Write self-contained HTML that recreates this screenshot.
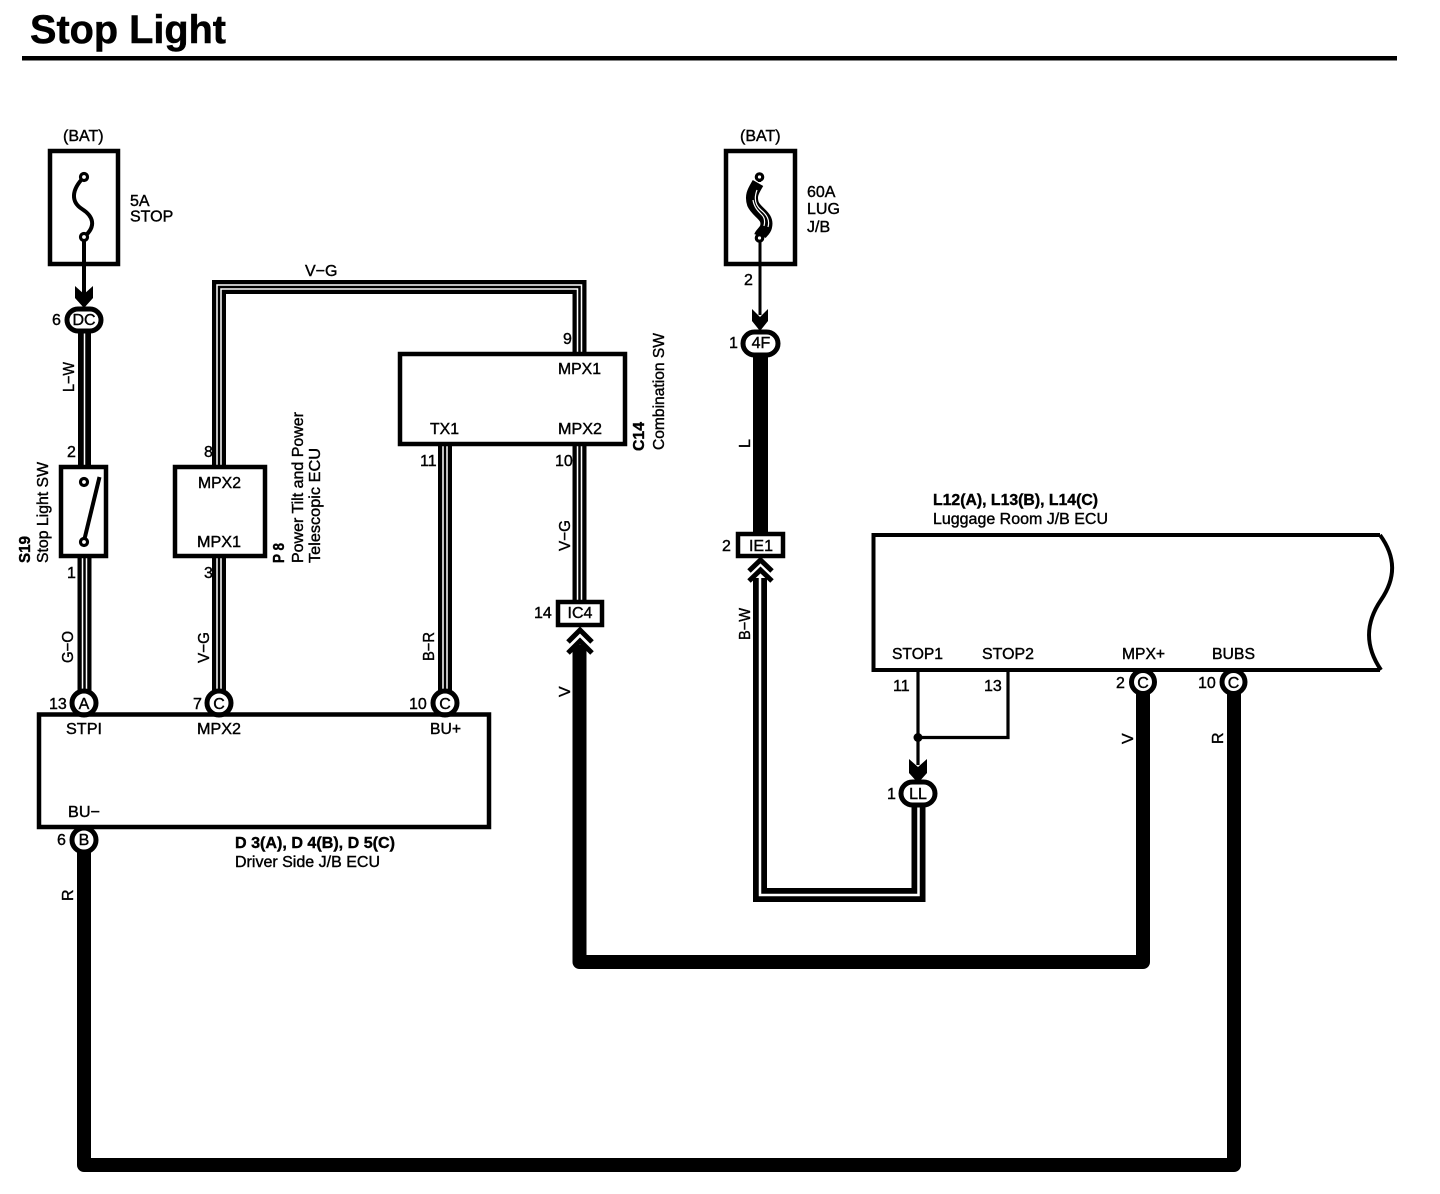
<!DOCTYPE html>
<html>
<head>
<meta charset="utf-8">
<style>
html,body{margin:0;padding:0;background:#fff}
svg{display:block}
text{font-family:"Liberation Sans",Arial,sans-serif;font-size:16px;fill:#000;stroke:#000;stroke-width:.4}
.b{font-weight:bold}
.m{text-anchor:middle}
.w{fill:none;stroke:#000}
.bx{fill:#fff;stroke:#000;stroke-width:4.5}
.c{fill:#fff;stroke:#000;stroke-width:5}
</style>
</head>
<body>
<svg width="1440" height="1194" viewBox="0 0 1440 1194" xmlns="http://www.w3.org/2000/svg">
<rect width="1440" height="1194" fill="#fff"/>
<text x="30" y="43" class="b" style="font-size:40px;stroke-width:.5" textLength="196" lengthAdjust="spacingAndGlyphs">Stop Light</text>
<rect x="22" y="56" width="1375" height="4.5" fill="#000"/>

<g fill="none" stroke-linejoin="miter">
<!-- striped V-G top -->
<path d="M219,467V287H579.5V354" stroke="#000" stroke-width="14"/>
<path d="M219,467V287H579.5V354" stroke="#fff" stroke-width="5.5"/>
<path d="M219,467V287H579.5V354" stroke="#000" stroke-width="2.5"/>
<!-- L-W -->
<path d="M84.5,330V467" stroke="#000" stroke-width="13"/>
<path d="M84.5,330V467" stroke="#fff" stroke-width="1.5"/>
<!-- G-O, V-G, B-R, V-G -->
<path d="M84.5,556V694M219,556V694M445,444V694M579.5,444V603" stroke="#000" stroke-width="14"/>
<path d="M84.5,556V694M219,556V694M445,444V694M579.5,444V603" stroke="#fff" stroke-width="5.5"/>
<path d="M84.5,556V694M219,556V694M445,444V694M579.5,444V603" stroke="#000" stroke-width="2.5"/>
<!-- thick R -->
<path d="M84,850V1165H1234V690" stroke="#000" stroke-width="14" stroke-linejoin="round"/>
<!-- thick V -->
<path d="M579.5,645V962H1143V690" stroke="#000" stroke-width="14" stroke-linejoin="round"/>
<!-- L -->
<path d="M760.5,352V535" stroke="#000" stroke-width="15"/>
<!-- B-W -->
<path d="M760,578V895H918.5V803" stroke="#000" stroke-width="14"/>
<path d="M760,578V895H918.5V803" stroke="#fff" stroke-width="2.5"/>
</g>

<!-- fuses -->
<rect x="50" y="151" width="68" height="113" class="bx"/>
<rect x="726" y="151" width="69" height="113" class="bx"/>
<path d="M84,177C71,190 71,202 82,209C93,216 97,226 84,237" class="w" stroke-width="4"/>
<circle cx="84" cy="177" r="3.5" fill="#fff" stroke="#000" stroke-width="3.2"/>
<path d="M84,238V295" class="w" stroke-width="4"/>
<circle cx="84" cy="237" r="3.5" fill="#fff" stroke="#000" stroke-width="3.2"/>
<path d="M758,183C754,190 750,195 753,204C757,213 769,216 766,227C765,231 761,233 760,236" class="w" stroke-width="12"/>
<path d="M757,190C754,198 755,205 761,210C767,215 770,220 768,227M753,200C754,207 758,211 762,215C765,218 765,222 764,226" class="w" style="stroke:#fff" stroke-width="1.2"/>
<path d="M759.5,176V182M760,238V315" class="w" stroke-width="3"/>
<circle cx="759.5" cy="177" r="3.2" fill="#fff" stroke="#000" stroke-width="3.2"/>
<circle cx="759.5" cy="238" r="3.2" fill="#fff" stroke="#000" stroke-width="3.2"/>

<!-- arrowheads down -->
<polygon points="75,286 84,294 93,286 93,298 84,308 75,298" fill="#000"/>
<polygon points="752,309 760,317 768,309 768,321 760,331 752,321" fill="#000"/>
<polygon points="909,759 918,767 927,759 927,773 918,783 909,773" fill="#000"/>

<!-- chevrons up -->
<g fill="none" stroke="#000" stroke-width="5">
<path d="M568,642L580,630L592,642M568,653L580,641L592,653"/>
<path d="M749,571L760.5,560L772,571M749,581L760.5,570L772,581"/>
</g>

<!-- boxes -->
<rect x="61" y="467" width="45" height="89" class="bx"/>
<rect x="175" y="467" width="90" height="89" class="bx"/>
<rect x="400" y="354" width="225" height="90" class="bx"/>
<rect x="39" y="714" width="450" height="113" fill="#fff" stroke="none"/>

<!-- switch -->
<circle cx="84" cy="482" r="3.5" fill="#fff" stroke="#000" stroke-width="3.2"/>
<path d="M84,541L99.5,477" class="w" stroke-width="4"/>
<circle cx="84" cy="542" r="3.5" fill="#fff" stroke="#000" stroke-width="3.2"/>

<!-- connectors round -->
<circle cx="84" cy="703" r="12" class="c"/>
<circle cx="219" cy="703" r="12" class="c"/>
<circle cx="445" cy="703" r="12" class="c"/>
<circle cx="84" cy="840" r="12" class="c"/>
<circle cx="1143" cy="682" r="11.5" class="c"/>
<circle cx="1233.5" cy="682" r="11.5" class="c"/>

<!-- D box outline -->
<rect x="39" y="714.5" width="450" height="112.5" fill="none" stroke="#000" stroke-width="4.5"/>

<!-- Luggage box -->
<path d="M1380,535H873.5V670H1380" class="w" stroke-width="4"/>
<path d="M1380,535C1396,557 1396,578 1381,600C1366,622 1364,645 1381,670" class="w" stroke-width="4"/>
<path d="M918,672V765M1008,672V737.5H918" class="w" stroke-width="3.2"/>
<circle cx="918" cy="737.5" r="4.5" fill="#000"/>

<!-- ovals -->
<rect x="67" y="309" width="34" height="22" rx="11" class="c"/>
<rect x="743" y="332" width="35" height="23" rx="11.5" class="c"/>
<rect x="901" y="782" width="34" height="23" rx="11.5" class="c"/>

<!-- rect connectors -->
<rect x="558" y="602" width="44" height="23" class="bx"/>
<rect x="738" y="534" width="45" height="22" class="bx"/>

<!-- labels -->
<text x="63" y="141">(BAT)</text>
<text x="740" y="141">(BAT)</text>
<text x="130" y="206">5A</text>
<text x="130" y="221.5">STOP</text>
<text x="807" y="197">60A</text>
<text x="807" y="214">LUG</text>
<text x="807" y="232">J/B</text>
<text x="305" y="276">V−G</text>

<text x="52" y="325">6</text>
<text x="84" y="325" class="m">DC</text>
<text x="67" y="457">2</text>
<text x="67" y="578">1</text>
<text x="204" y="457">8</text>
<text x="204" y="578">3</text>
<text x="198" y="488" textLength="43" lengthAdjust="spacingAndGlyphs">MPX2</text>
<text x="197" y="547" textLength="44" lengthAdjust="spacingAndGlyphs">MPX1</text>

<text x="49" y="709">13</text>
<text x="84" y="709" class="m">A</text>
<text x="193" y="709">7</text>
<text x="219" y="709" class="m">C</text>
<text x="409" y="709">10</text>
<text x="445" y="709" class="m">C</text>
<text x="66" y="734" textLength="36" lengthAdjust="spacingAndGlyphs">STPI</text>
<text x="197" y="734" textLength="44" lengthAdjust="spacingAndGlyphs">MPX2</text>
<text x="430" y="734" textLength="31" lengthAdjust="spacingAndGlyphs">BU+</text>
<text x="68" y="817" textLength="32" lengthAdjust="spacingAndGlyphs">BU−</text>
<text x="57" y="845">6</text>
<text x="84" y="845" class="m">B</text>
<text x="235" y="848" class="b" textLength="160" lengthAdjust="spacingAndGlyphs">D 3(A), D 4(B), D 5(C)</text>
<text x="235" y="867" textLength="145" lengthAdjust="spacingAndGlyphs">Driver Side J/B ECU</text>

<text x="563" y="344">9</text>
<text x="558" y="374" textLength="43" lengthAdjust="spacingAndGlyphs">MPX1</text>
<text x="430" y="434" textLength="29" lengthAdjust="spacingAndGlyphs">TX1</text>
<text x="558" y="434" textLength="44" lengthAdjust="spacingAndGlyphs">MPX2</text>
<text x="420" y="466">11</text>
<text x="555" y="466">10</text>
<text x="534" y="618">14</text>
<text x="580" y="618" class="m">IC4</text>

<text x="729" y="348">1</text>
<text x="761" y="348" class="m">4F</text>
<text x="744" y="285">2</text>
<text x="722" y="551">2</text>
<text x="761" y="551" class="m">IE1</text>
<text x="887" y="799">1</text>
<text x="918" y="799" class="m">LL</text>
<text x="893" y="691">11</text>
<text x="984" y="691">13</text>
<text x="892" y="659" textLength="51" lengthAdjust="spacingAndGlyphs">STOP1</text>
<text x="982" y="659" textLength="52" lengthAdjust="spacingAndGlyphs">STOP2</text>
<text x="1122" y="659" textLength="43" lengthAdjust="spacingAndGlyphs">MPX+</text>
<text x="1212" y="659" textLength="43" lengthAdjust="spacingAndGlyphs">BUBS</text>
<text x="1116" y="688">2</text>
<text x="1143" y="688" class="m">C</text>
<text x="1198" y="688">10</text>
<text x="1233.5" y="688" class="m">C</text>
<text x="933" y="505" class="b" textLength="165" lengthAdjust="spacingAndGlyphs">L12(A), L13(B), L14(C)</text>
<text x="933" y="524" textLength="175" lengthAdjust="spacingAndGlyphs">Luggage Room J/B ECU</text>

<!-- rotated -->
<text transform="translate(74,392) rotate(-90)" textLength="30" lengthAdjust="spacingAndGlyphs">L−W</text>
<text transform="translate(73,663) rotate(-90)" textLength="32" lengthAdjust="spacingAndGlyphs">G−O</text>
<text transform="translate(209,663) rotate(-90)" textLength="31" lengthAdjust="spacingAndGlyphs">V−G</text>
<text transform="translate(434,661) rotate(-90)" textLength="29" lengthAdjust="spacingAndGlyphs">B−R</text>
<text transform="translate(570,551) rotate(-90)" textLength="31" lengthAdjust="spacingAndGlyphs">V−G</text>
<text transform="translate(570,697) rotate(-90)">V</text>
<text transform="translate(73,901) rotate(-90)">R</text>
<text transform="translate(750,448) rotate(-90)">L</text>
<text transform="translate(750,640) rotate(-90)" textLength="32" lengthAdjust="spacingAndGlyphs">B−W</text>
<text transform="translate(1133,744) rotate(-90)">V</text>
<text transform="translate(1223,744) rotate(-90)">R</text>
<text transform="translate(30,563) rotate(-90)" class="b" textLength="27" lengthAdjust="spacingAndGlyphs">S19</text>
<text transform="translate(48,563) rotate(-90)" textLength="101" lengthAdjust="spacingAndGlyphs">Stop Light SW</text>
<text transform="translate(284,563) rotate(-90)" class="b" textLength="20" lengthAdjust="spacingAndGlyphs">P 8</text>
<text transform="translate(303,563) rotate(-90)" textLength="151" lengthAdjust="spacingAndGlyphs">Power Tilt and Power</text>
<text transform="translate(320,563) rotate(-90)" textLength="115" lengthAdjust="spacingAndGlyphs">Telescopic ECU</text>
<text transform="translate(644,451) rotate(-90)" class="b" textLength="29" lengthAdjust="spacingAndGlyphs">C14</text>
<text transform="translate(664,450) rotate(-90)" textLength="117" lengthAdjust="spacingAndGlyphs">Combination SW</text>
</svg>
</body>
</html>
